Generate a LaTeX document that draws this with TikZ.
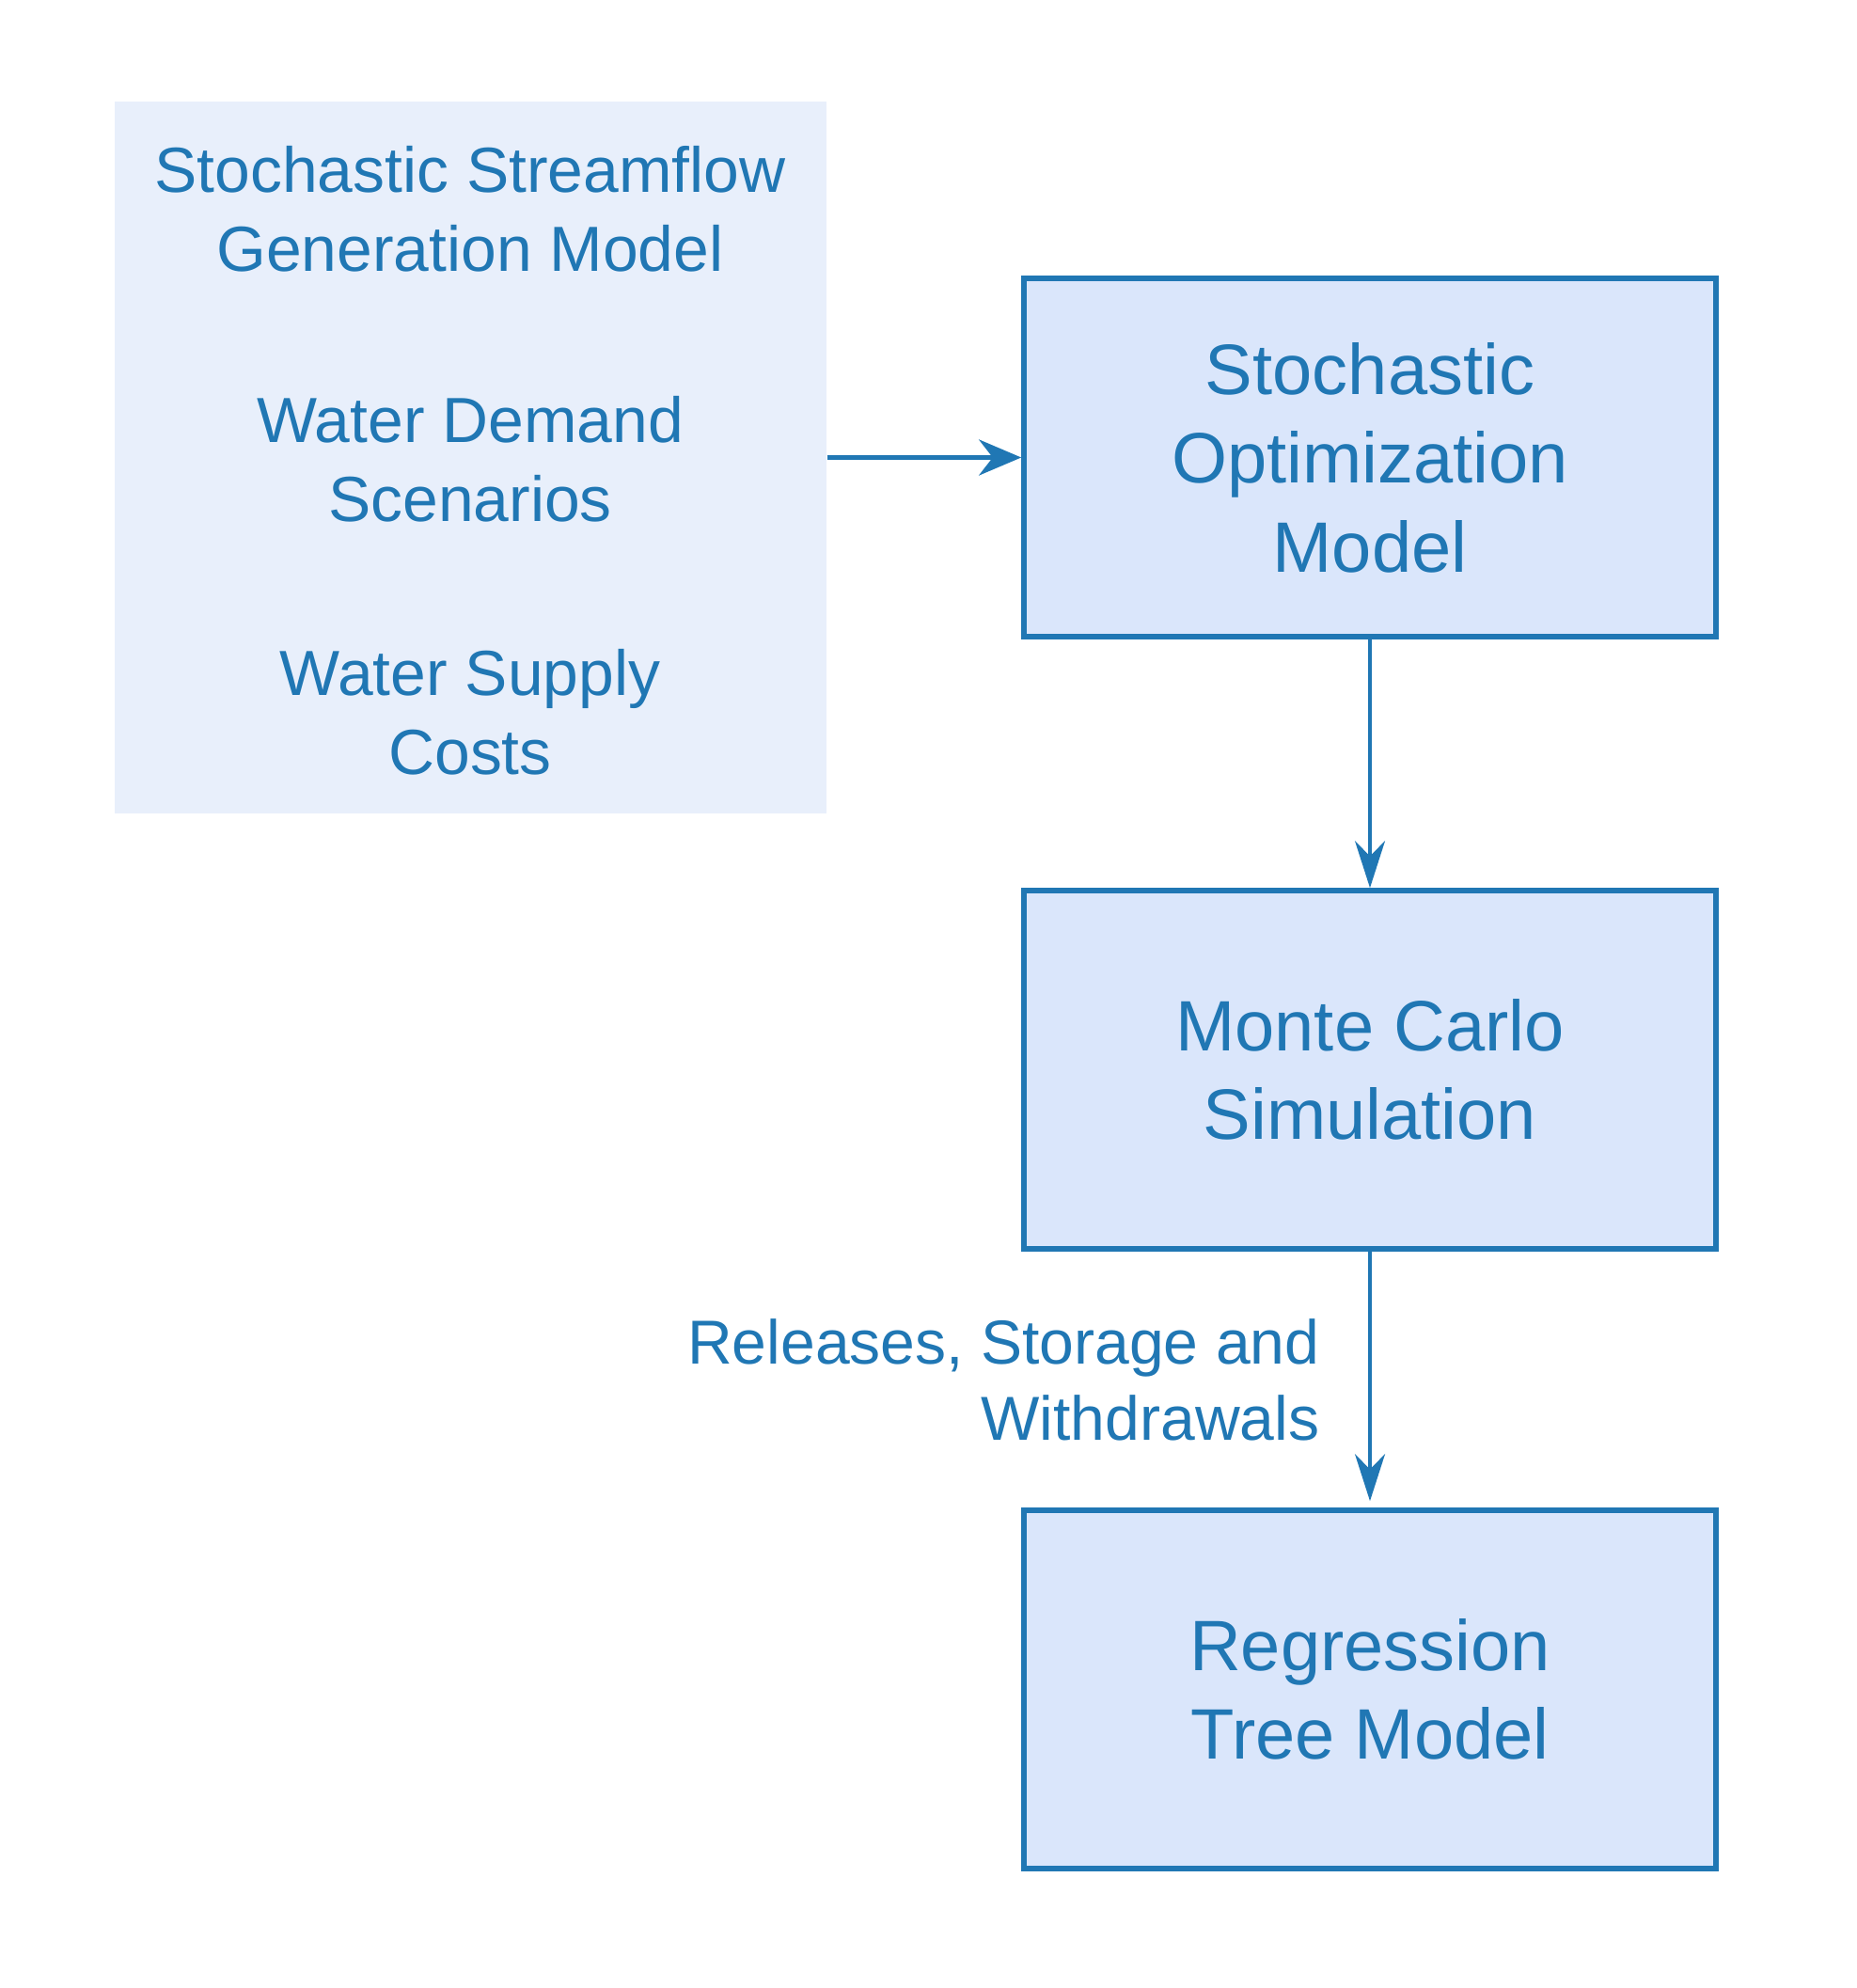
\documentclass[tikz,border=0pt]{standalone}
\usepackage{fontspec}
\setmainfont{Liberation Sans}
\usetikzlibrary{arrows.meta}

\definecolor{lineblue}{HTML}{2077B4}
\definecolor{modelfill}{HTML}{DAE6FB}
\definecolor{groupfill}{HTML}{E8EFFB}

\tikzset{
  model/.style={rectangle, draw=lineblue, line width=1.6pt, fill=modelfill, minimum width=7.36cm, minimum height=3.81cm, text=lineblue, align=center, font=\fontsize{21.6}{26.9}\selectfont},
  input/.style={rectangle, text=lineblue, align=center, font=\fontsize{19.3}{23.9}\selectfont},
  link/.style={draw=lineblue, line width=1.1pt, -{Stealth[length=0.5cm, width=0.32cm]}}
}

\begin{document}
\begin{tikzpicture}
\useasboundingbox (0,0) rectangle (19.74,-21.14);

% inputs group
\node(inputs) [rectangle, fill=groupfill, minimum width=7.57cm, minimum height=7.57cm] at (5.005,-4.865) {};
\node(streamflow) [input] at (5.0,-2.22) {Stochastic Streamflow\\Generation Model};
\node(demand) [input] at (5.0,-4.88) {Water Demand\\Scenarios};
\node(costs) [input] at (5.0,-7.57) {Water Supply\\Costs};

% models
\node(optim) [model] at (14.57,-4.865) {Stochastic\\Optimization\\Model};
\node(montecarlo) [model] at (14.57,-11.375) {Monte Carlo\\Simulation};
\node(regression) [model] at (14.57,-17.965) {Regression\\Tree Model};

\draw[draw=lineblue, line width=1.6pt, -{Stealth[length=0.45cm, width=0.38cm]}] (inputs) -- (optim);
\draw[link] (optim) -- (montecarlo);
\draw[link, shorten >=0.07cm] (montecarlo) -- node(flows) [left, xshift=-0.4cm, text=lineblue, align=right, font=\fontsize{18.8}{23}\selectfont] {Releases, Storage and\\Withdrawals} (regression);

\end{tikzpicture}
\end{document}
